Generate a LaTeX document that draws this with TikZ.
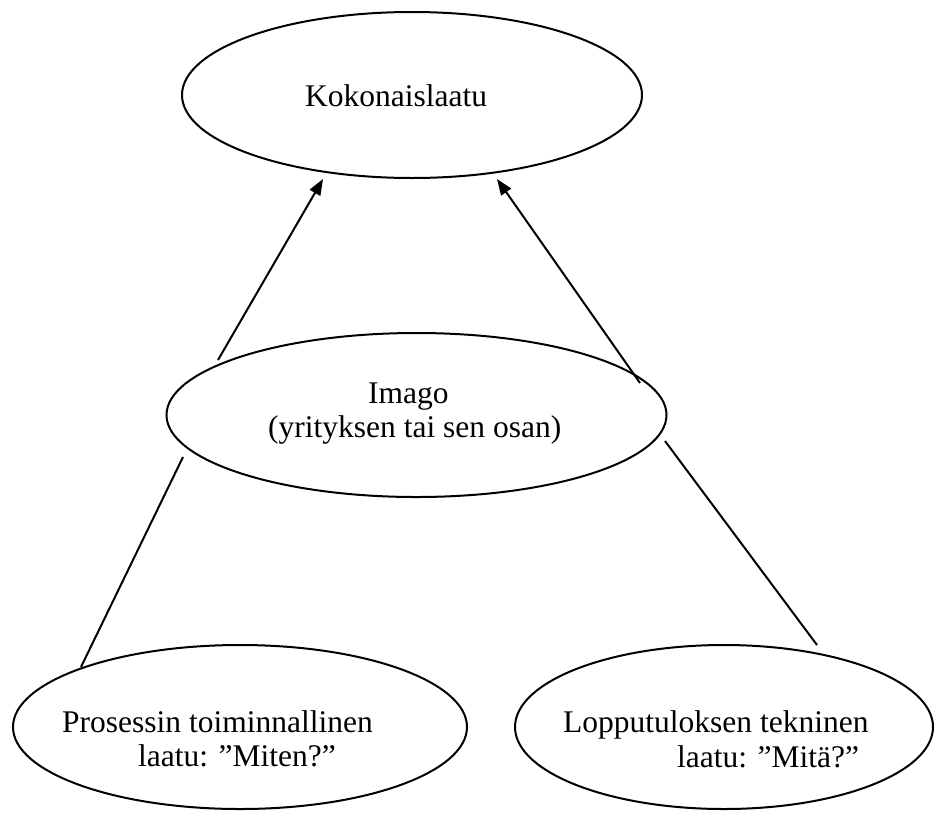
\documentclass[tikz,border=0pt]{standalone}
\usepackage{fontspec}
\setmainfont{Liberation Serif}
\usetikzlibrary{shapes.geometric,arrows.meta}
\tikzset{
  oval/.style={ellipse, draw, line width=2pt, inner sep=0pt, outer sep=0pt},
  lbl/.style={anchor=base west, inner sep=0pt, font=\fontsize{31.5pt}{36pt}\selectfont},
  conn/.style={line width=2pt},
  arr/.style={conn, -{Triangle[length=16pt,width=12pt]}}
}
\begin{document}
\begin{tikzpicture}[x=1pt,y=-1pt]
\useasboundingbox (0,0) rectangle (934,812);
% ellipses
\node[oval, minimum width=460pt, minimum height=166pt] (koko) at (412,95) {};
\node[oval, minimum width=500pt, minimum height=164pt] (imago) at (416.5,415) {};
\node[oval, minimum width=454pt, minimum height=164pt] (proc) at (240,727) {};
\node[oval, minimum width=418pt, minimum height=164pt] (lopp) at (724,727) {};
% texts
\node[lbl] (t1) at (305,106) {Kokonaislaatu};
\node[lbl] (t2) at (368,403) {Imago};
\node[lbl] (t3) at (268,437) {(yrityksen tai sen osan)};
\node[lbl] (t4) at (62,732) {Prosessin toiminnallinen};
\node[lbl] (t5) at (138,766) {laatu: ”Miten?”};
\node[lbl] (t6) at (563,732) {Lopputuloksen tekninen};
\node[lbl] (t7) at (677,767) {laatu: ”Mitä?”};
% connector end points
\coordinate (a1s) at (218,360);
\coordinate (a1e) at (323,179);
\coordinate (a2s) at (640,383);
\coordinate (a2e) at (497,179);
\coordinate (l1s) at (183,457);
\coordinate (l1e) at (81,667);
\coordinate (l2s) at (665,441);
\coordinate (l2e) at (817,645);
% connectors
\draw[arr] (a1s) -- (a1e);
\draw[arr] (a2s) -- (a2e);
\draw[conn] (l1s) -- (l1e);
\draw[conn] (l2s) -- (l2e);
\end{tikzpicture}
\end{document}
